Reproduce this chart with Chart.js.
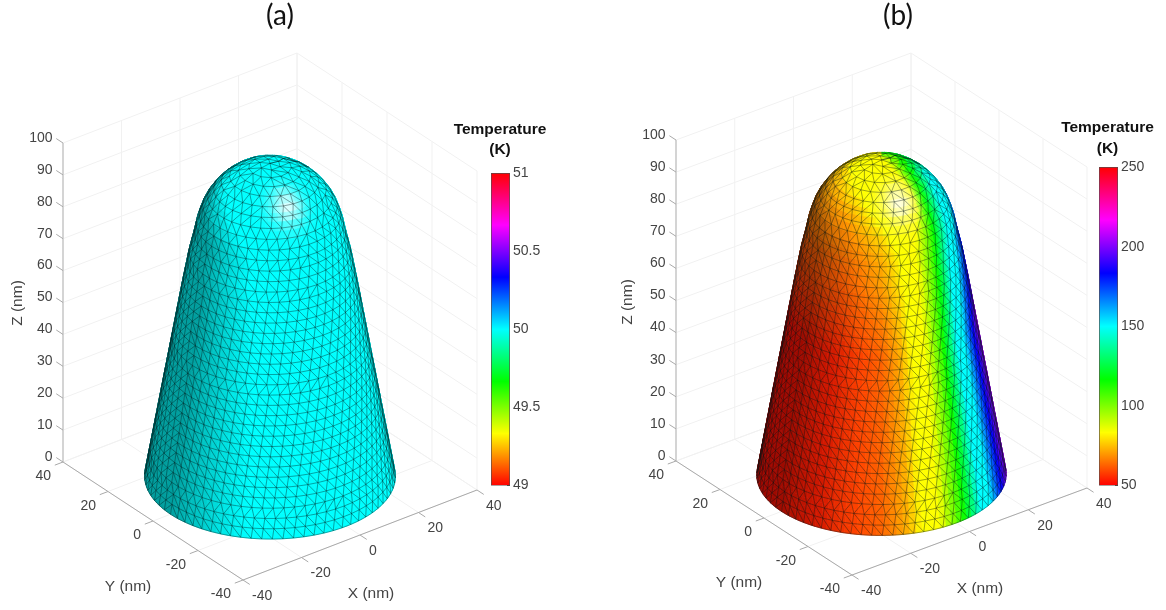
<!DOCTYPE html>
<html>
<head>
<meta charset="utf-8">
<title>Temperature on a nanotip</title>
<script src="https://cdn.jsdelivr.net/npm/chart.js@4"></script>
<style>
  html, body { margin: 0; padding: 0; background: #fff; }
  canvas { position: absolute; filter: blur(0.35px); }
</style>
</head>
<body>
<canvas id="surfaceA" style="left:0;top:0"></canvas>
<canvas id="surfaceB" style="left:583px;top:0"></canvas>
<canvas id="barA" style="left:440px;top:110px"></canvas>
<canvas id="barB" style="left:1048px;top:104px"></canvas>
<script>
// tip outline: height (nm) and radius (nm)
const profileZ = [0, 10, 20, 30, 40, 50, 60, 70, 76, 80, 84, 87, 90, 92, 94, 95.5, 96.7, 97.5, 98];
const profileR = [34, 32.3, 30.6, 28.9, 27.2, 25.5, 23.8, 22, 20.6, 19.8, 18.6, 17.2, 15.2, 13.4, 11, 8.8, 6.4, 4, 0];

// temperature round the tip, by angle from the viewer (deg, + is screen right)
const tempAngle = [-90, -60, -30, 0, 12, 25, 40, 56, 72, 90];
const tempA = [50, 50, 50, 50, 50, 50, 50, 50, 50, 50];
const tempB = [51, 52, 54, 62, 70, 85, 112, 150, 180, 205];
const poleTempA = 50;
const poleTempB = 92;

const xyTicks = [-40, -20, 0, 20, 40];
const zTicks = [0, 10, 20, 30, 40, 50, 60, 70, 80, 90, 100];
const barTicksA = [49, 49.5, 50, 50.5, 51];
const barTicksB = [50, 100, 150, 200, 250];

// hsv colormap
const cmapPos = [0, 1 / 6, 2 / 6, 3 / 6, 4 / 6, 5 / 6, 1];
const cmapRgb = [[255, 0, 0], [255, 255, 0], [0, 255, 0], [0, 255, 255], [0, 0, 255], [255, 0, 255], [255, 0, 0]];

const LIGHT = [0.454, 0.502, 0.73];
const FONT = '"Liberation Sans", Arial, sans-serif';
// a dash that never breaks keeps Chart.js off its fast path, which merges unsorted x values
const SOLID = [100000, 0];

function lerpTable(xs, ys, x) {
  if (x <= xs[0]) return ys[0];
  for (let i = 1; i < xs.length; i++) {
    if (x <= xs[i]) return ys[i - 1] + (ys[i] - ys[i - 1]) * (x - xs[i - 1]) / (xs[i] - xs[i - 1]);
  }
  return ys[ys.length - 1];
}

function norm(v) {
  const l = Math.hypot(v[0], v[1], v[2]);
  return [v[0] / l, v[1] / l, v[2] / l];
}
const dot = (a, b) => a[0] * b[0] + a[1] * b[1] + a[2] * b[2];

// arc length along the outline
const profileS = [0];
for (let i = 1; i < profileZ.length; i++) {
  profileS.push(profileS[i - 1] + Math.hypot(profileZ[i] - profileZ[i - 1], profileR[i] - profileR[i - 1]));
}
const arcLength = profileS[profileS.length - 1];

function outlineAt(s) {
  const z = lerpTable(profileS, profileZ, s);
  const r = lerpTable(profileS, profileR, s);
  const d = 2.5;
  const dz = lerpTable(profileS, profileZ, s + d) - lerpTable(profileS, profileZ, s - d);
  const dr = lerpTable(profileS, profileR, s + d) - lerpTable(profileS, profileR, s - d);
  const l = Math.hypot(dz, dr) || 1;
  return { z, r, nr: s >= arcLength ? 0 : dz / l, nz: s >= arcLength ? 1 : -dr / l };
}

function makeView(cfg) {
  const ex = [(cfg.right[0] - cfg.front[0]) / 80, (cfg.right[1] - cfg.front[1]) / 80];
  const ey = [(cfg.left[0] - cfg.front[0]) / 80, (cfg.left[1] - cfg.front[1]) / 80];
  const u = norm([ex[0], ey[0], 0]);
  const up = norm([-ex[1], -ey[1], cfg.zScale]);
  const w = norm([u[1] * up[2] - u[2] * up[1], u[2] * up[0] - u[0] * up[2], u[0] * up[1] - u[1] * up[0]]);
  return {
    ...cfg, ex, ey, u, up, w,
    az: Math.atan2(w[1], w[0]),
    project(X, Y, Z) {
      return {
        x: cfg.front[0] + (X + 40) * ex[0] + (Y + 40) * ey[0],
        y: cfg.front[1] + (X + 40) * ex[1] + (Y + 40) * ey[1] - Z * cfg.zScale
      };
    }
  };
}

function colormap(f) {
  return [0, 1, 2].map(c => lerpTable(cmapPos, cmapRgb.map(k => k[c]), f));
}

function surfaceColor(view, s, th) {
  const o = outlineAt(s);
  let phi = (th - view.az) * 180 / Math.PI;
  while (phi > 180) phi -= 360;
  while (phi < -180) phi += 360;
  // the spread round the tip narrows near the dome, and closes at the top
  const k = Math.min(1, o.r / 20.6) * (1 - 0.3 * Math.min(1, Math.max(0, (o.z - 50) / 30)));
  const t = view.pole + (lerpTable(tempAngle, view.temps, phi) - view.pole) * k;
  const base = colormap((t - view.range[0]) / (view.range[1] - view.range[0]));
  const n = [o.nr * Math.cos(th), o.nr * Math.sin(th), o.nz];
  const nv = [dot(n, view.u), dot(n, view.up), dot(n, view.w)];
  const diff = Math.max(0, dot(nv, LIGHT));
  const half = norm([LIGHT[0], LIGHT[1], LIGHT[2] + 1]);
  const spec = Math.pow(Math.max(0, dot(nv, half)), 34) * 0.85;
  const edge = 0.72 + 0.28 * Math.min(1, Math.max(0, nv[2]) / 0.22);
  const light = (0.62 + 0.9 * diff) * edge;
  return 'rgb(' + base.map(c => Math.round(Math.min(255, c * light + 255 * spec))).join(',') + ')';
}

function facetDatasets(view) {
  const ds = [];
  const stepS = 2.4;
  const stepT = 3 * Math.PI / 180;
  const rows = Math.ceil(arcLength / stepS);
  const cols = Math.round(2 * Math.PI / stepT);
  for (let i = 0; i < rows; i++) {
    const s0 = i * arcLength / rows, s1 = (i + 1) * arcLength / rows;
    const a = outlineAt(s0), b = outlineAt(s1);
    for (let j = 0; j < cols; j++) {
      const t0 = j * stepT, t1 = (j + 1) * stepT;
      const tm = (t0 + t1) / 2;
      const m = outlineAt((s0 + s1) / 2);
      const nm = [m.nr * Math.cos(tm), m.nr * Math.sin(tm), m.nz];
      if (dot(nm, view.w) < -0.06) continue;
      const c = surfaceColor(view, (s0 + s1) / 2, tm);
      const corner = (o, t) => view.project(o.r * Math.cos(t), o.r * Math.sin(t), o.z);
      const p = [corner(a, t0), corner(a, t1), corner(b, t1), corner(b, t0), corner(a, t0)];
      const depth = m.r * Math.cos(tm) * view.w[0] + m.r * Math.sin(tm) * view.w[1] + m.z * view.w[2];
      ds.push({ depth, type: 'line', data: p, borderColor: c, backgroundColor: c, borderWidth: 0.8, borderDash: SOLID, fill: 'shape', pointRadius: 0, tension: 0, clip: false });
    }
  }
  return ds.sort((p, q) => q.depth - p.depth);
}

function meshData(view) {
  const pts = [];
  const step = 2.95;
  const count = Math.round(arcLength / step);
  const rings = [];
  for (let k = 0; k <= count; k++) {
    const s = k * arcLength / count;
    const o = outlineAt(s);
    const n = k === count ? 1 : Math.max(5, Math.round(2 * Math.PI * o.r / 2.9));
    rings.push({ s, o, n, off: (k % 2) * 0.5 * 2 * Math.PI / n });
  }
  const angle = (ring, i) => ring.off + i * 2 * Math.PI / ring.n;
  const edge = (ra, ta, rb, tb) => {
    const m = outlineAt((ra.s + rb.s) / 2);
    const t = (ta + tb) / 2;
    if (m.nr * Math.cos(t) * view.w[0] + m.nr * Math.sin(t) * view.w[1] + m.nz * view.w[2] < 0) return;
    pts.push(view.project(ra.o.r * Math.cos(ta), ra.o.r * Math.sin(ta), ra.o.z));
    pts.push(view.project(rb.o.r * Math.cos(tb), rb.o.r * Math.sin(tb), rb.o.z));
    pts.push({ x: NaN, y: NaN });
  };
  rings.forEach((ra, k) => {
    if (ra.n > 1) {
      for (let i = 0; i < ra.n; i++) edge(ra, angle(ra, i), ra, angle(ra, i + 1));
    }
    const rb = rings[k + 1];
    if (!rb) return;
    let i = 0, j = 0;
    while (i <= ra.n && j <= rb.n) {
      edge(ra, angle(ra, i), rb, angle(rb, j));
      if (angle(ra, i + 1) < angle(rb, j + 1)) i++; else j++;
    }
  });
  return pts;
}

function lineSet(view, segs) {
  const out = [];
  segs.forEach(s => {
    out.push(view.project(s[0], s[1], s[2]), view.project(s[3], s[4], s[5]), { x: NaN, y: NaN });
  });
  return out;
}

function gridData(view) {
  const segs = [];
  zTicks.forEach(z => {
    segs.push([-40, 40, z, 40, 40, z], [40, 40, z, 40, -40, z]);
  });
  xyTicks.forEach(t => {
    segs.push([t, 40, 0, t, 40, 100], [40, t, 0, 40, t, 100]);
    segs.push([t, -40, 0, t, 40, 0], [-40, t, 0, 40, t, 0]);
  });
  return lineSet(view, segs);
}

function floorAxisData(view) {
  const segs = [[-40, -40, 0, 40, -40, 0], [-40, -40, 0, -40, 40, 0]];
  xyTicks.forEach(t => {
    segs.push([t, -40, 0, t, -43, 0], [-40, t, 0, -42.8, t, 0]);
  });
  zTicks.forEach(z => segs.push([-40, 40, z, -40, 43, z]));
  return lineSet(view, segs);
}

// tick and axis text goes through the hidden scales
const axisText = {
  id: 'axisText',
  afterDraw(chart, args, opts) {
    const view = opts.view;
    const { ctx, scales } = chart;
    const left = chart.canvas.offsetLeft;
    const put = (p, dx, dy, text, align) => {
      ctx.textAlign = align;
      ctx.fillText(text, scales.x.getPixelForValue(p.x) + dx, scales.y.getPixelForValue(p.y) + dy);
    };
    ctx.save();
    ctx.textBaseline = 'middle';
    ctx.fillStyle = '#444';
    ctx.font = '14px ' + FONT;
    zTicks.forEach(z => put(view.project(-40, 40, z), -10.5, -5, String(z), 'right'));
    xyTicks.forEach(t => {
      put(view.project(-40, t, 0), -12, 14.5, String(t), 'right');
      put(view.project(t, -40, 0), 9, 16, String(t), 'left');
    });
    ctx.font = '15.5px ' + FONT;
    ctx.textAlign = 'center';
    ctx.fillText('X (nm)', view.labels.x[0] - left, view.labels.x[1]);
    ctx.fillText('Y (nm)', view.labels.y[0] - left, view.labels.y[1]);
    ctx.translate(view.labels.z[0] - left, view.labels.z[1]);
    ctx.rotate(-Math.PI / 2);
    ctx.fillText('Z (nm)', 0, 0);
    ctx.restore();
    ctx.save();
    ctx.fillStyle = '#111';
    ctx.font = '28px Lato, sans-serif';
    ctx.textAlign = 'center';
    ctx.textBaseline = 'middle';
    ctx.fillText(view.title, view.labels.t[0] - left, view.labels.t[1]);
    ctx.restore();
  }
};

function drawSurface(id, view, xMin, xMax) {
  const canvas = document.getElementById(id);
  canvas.width = xMax - xMin;
  canvas.height = 610;
  const line = { type: 'line', pointRadius: 0, tension: 0, clip: false, fill: false, borderDash: SOLID };
  const datasets = [
    { ...line, data: meshData(view), borderColor: 'rgba(0,20,20,0.6)', borderWidth: 0.65 },
    ...facetDatasets(view),
    { ...line, data: floorAxisData(view), borderColor: '#a9a9a9', borderWidth: 1 },
    { ...line, data: lineSet(view, [[-40, 40, 0, -40, 40, 100]]), borderColor: '#c9c9c9', borderWidth: 1.5 },
    { ...line, data: gridData(view), borderColor: '#f1f1f1', borderWidth: 1 }
  ];
  return new Chart(canvas, {
    type: 'line',
    data: { datasets },
    plugins: [axisText],
    options: {
      responsive: false,
      animation: false,
      events: [],
      layout: { padding: 0 },
      scales: {
        x: { type: 'linear', display: false, min: xMin, max: xMax },
        y: { type: 'linear', display: false, min: 0, max: 610, reverse: true }
      },
      plugins: {
        legend: { display: false },
        tooltip: { enabled: false },
        filler: { drawTime: 'beforeDatasetDraw', propagate: false },
        axisText: { view }
      }
    }
  });
}

const barTitle = {
  id: 'barTitle',
  afterDraw(chart, args, opts) {
    const ctx = chart.ctx;
    ctx.save();
    ctx.fillStyle = '#111';
    ctx.font = 'bold 15.5px ' + FONT;
    ctx.textAlign = 'center';
    ctx.textBaseline = 'middle';
    ctx.fillText('Temperature', opts.cx, opts.y0);
    ctx.fillText('(K)', opts.cx, opts.y1);
    ctx.restore();
  }
};

function drawColorbar(id, ticks, cfg) {
  const canvas = document.getElementById(id);
  canvas.width = cfg.width;
  canvas.height = cfg.height;
  const lo = ticks[0], hi = ticks[ticks.length - 1];
  return new Chart(canvas, {
    type: 'bar',
    data: {
      labels: [''],
      datasets: [{
        data: [[lo, hi]],
        borderColor: '#5a4a4a',
        borderWidth: 1,
        borderSkipped: false,
        categoryPercentage: 1,
        barPercentage: 1,
        backgroundColor(c) {
          const area = c.chart.chartArea;
          if (!area) return '#fff';
          const g = c.chart.ctx.createLinearGradient(0, area.bottom, 0, area.top);
          cmapPos.forEach((p, i) => g.addColorStop(p, 'rgb(' + cmapRgb[i].join(',') + ')'));
          return g;
        }
      }]
    },
    plugins: [barTitle],
    options: {
      responsive: false,
      animation: false,
      events: [],
      layout: { padding: cfg.padding },
      scales: {
        x: { display: false },
        y: {
          position: 'right',
          min: lo,
          max: hi,
          afterFit(s) { s.width = cfg.axisWidth; },
          afterBuildTicks(s) { s.ticks = ticks.map(v => ({ value: v })); },
          border: { display: false },
          grid: { drawOnChartArea: false, drawTicks: true, tickLength: -3, color: '#444' },
          ticks: { color: '#444', padding: 6, font: { size: 14, family: FONT }, callback: v => String(v) }
        }
      },
      plugins: {
        legend: { display: false },
        tooltip: { enabled: false },
        barTitle: cfg.title
      }
    }
  });
}

const viewA = makeView({
  front: [243, 580], right: [477, 490], left: [63, 462], zScale: 3.19,
  temps: tempA, pole: poleTempA, range: [49, 51], title: '(a)',
  labels: { x: [371, 594], y: [128, 587], z: [18, 303], t: [280, 16] }
});
const viewB = makeView({
  front: [852, 575], right: [1087, 488], left: [676, 461], zScale: 3.21,
  temps: tempB, pole: poleTempB, range: [50, 250], title: '(b)',
  labels: { x: [980, 589], y: [739, 583], z: [628, 302], t: [898, 16] }
});

drawSurface('surfaceA', viewA, 0, 583);
drawSurface('surfaceB', viewB, 583, 1166);
drawColorbar('barA', barTicksA, { width: 120, height: 390, axisWidth: 50, padding: { left: 51, right: 0, top: 63, bottom: 13 }, title: { cx: 60, y0: 20, y1: 40 } });
drawColorbar('barB', barTicksB, { width: 120, height: 396, axisWidth: 50, padding: { left: 51, right: 0, top: 63, bottom: 13 }, title: { cx: 59.5, y0: 24, y1: 45 } });
</script>
</body>
</html>
